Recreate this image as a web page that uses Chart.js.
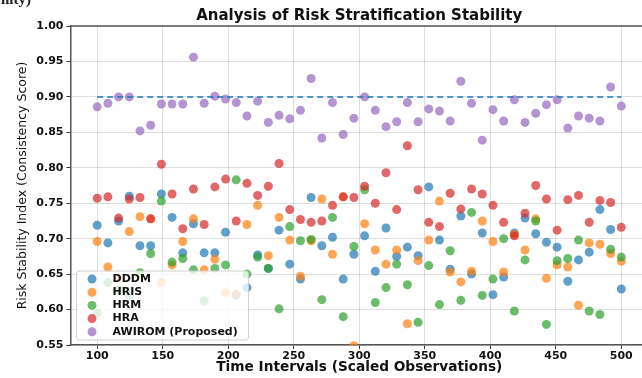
<!DOCTYPE html>
<html lang="en">
<head>
    <meta charset="UTF-8">
    <title>Analysis of Risk Stratification Stability</title>
    <script src="https://cdn.jsdelivr.net/npm/chart.js@4.4.1/dist/chart.umd.min.js"></script>
    <style>
        body {
            margin: 0;
            background: #fff;
            overflow: hidden;
        }
        .wrap {
            position: relative;
            width: 642px;
            height: 378px;
            overflow: hidden;
        }
        .fragment {
            position: absolute;
            left: 1px;
            top: -9px;
            font-family: 'Liberation Serif', serif;
            font-weight: bold;
            font-size: 15px;
            color: #222;
        }
    </style>
</head>
<body>
<div class="wrap">
    <canvas id="myChart" width="652" height="378"></canvas>
    <span class="fragment">ility)</span>
</div>

<script>
    // time intervals (scaled observations)
    const xValues = [100, 108.16, 116.33, 124.49, 132.65, 140.82, 148.98, 157.14, 165.31, 173.47,
        181.63, 189.80, 197.96, 206.12, 214.29, 222.45, 230.61, 238.78, 246.94, 255.10,
        263.27, 271.43, 279.59, 287.76, 295.92, 304.08, 312.24, 320.41, 328.57, 336.73,
        344.90, 353.06, 361.22, 369.39, 377.55, 385.71, 393.88, 402.04, 410.20, 418.37,
        426.53, 434.69, 442.86, 451.02, 459.18, 467.35, 475.51, 483.67, 491.84, 500];

    const dddm = [0.719, 0.694, 0.725, 0.760, 0.690, 0.690, 0.763, 0.730, 0.680, 0.721,
        0.680, 0.680, 0.709, 0.620, 0.631, 0.677, 0.658, 0.712, 0.664, 0.643,
        0.758, 0.690, 0.702, 0.643, 0.678, 0.704, 0.654, 0.715, 0.675, 0.688,
        0.676, 0.773, 0.698, 0.657, 0.732, 0.650, 0.708, 0.621, 0.646, 0.708,
        0.729, 0.707, 0.695, 0.688, 0.640, 0.670, 0.681, 0.741, 0.713, 0.629];

    const hris = [0.696, 0.660, 0.645, 0.710, 0.731, 0.728, 0.638, 0.663, 0.696, 0.728,
        0.656, 0.671, 0.624, 0.622, 0.720, 0.747, 0.676, 0.730, 0.698, 0.647,
        0.697, 0.756, 0.678, 0.759, 0.549, 0.721, 0.684, 0.664, 0.684, 0.580,
        0.669, 0.698, 0.753, 0.653, 0.639, 0.654, 0.725, 0.696, 0.653, 0.706,
        0.684, 0.728, 0.644, 0.663, 0.660, 0.606, 0.694, 0.692, 0.679, 0.668];

    const hrm = [0.595, 0.638, 0.628, 0.620, 0.652, 0.679, 0.753, 0.667, 0.672, 0.656,
        0.612, 0.658, 0.663, 0.783, 0.650, 0.674, 0.658, 0.601, 0.717, 0.697,
        0.699, 0.614, 0.730, 0.590, 0.689, 0.769, 0.610, 0.631, 0.664, 0.635,
        0.582, 0.662, 0.607, 0.683, 0.613, 0.737, 0.620, 0.643, 0.700, 0.598,
        0.670, 0.725, 0.579, 0.669, 0.672, 0.698, 0.598, 0.593, 0.685, 0.674];

    const hra = [0.757, 0.759, 0.729, 0.756, 0.758, 0.728, 0.805, 0.763, 0.714, 0.770,
        0.720, 0.773, 0.784, 0.725, 0.778, 0.761, 0.774, 0.806, 0.741, 0.727,
        0.723, 0.725, 0.747, 0.759, 0.758, 0.774, 0.750, 0.793, 0.741, 0.831,
        0.769, 0.723, 0.717, 0.764, 0.742, 0.770, 0.763, 0.747, 0.723, 0.704,
        0.736, 0.775, 0.756, 0.712, 0.755, 0.761, 0.723, 0.754, 0.751, 0.716];

    const awirom = [0.886, 0.891, 0.900, 0.900, 0.852, 0.860, 0.890, 0.890, 0.890, 0.956,
        0.891, 0.901, 0.897, 0.892, 0.873, 0.894, 0.864, 0.874, 0.869, 0.881,
        0.926, 0.842, 0.892, 0.847, 0.870, 0.900, 0.881, 0.858, 0.865, 0.892,
        0.865, 0.883, 0.880, 0.866, 0.922, 0.891, 0.839, 0.882, 0.866, 0.896,
        0.864, 0.877, 0.889, 0.896, 0.856, 0.873, 0.870, 0.866, 0.914, 0.887];

    const seriesNames = ['DDDM', 'HRIS', 'HRM', 'HRA', 'AWIROM (Proposed)'];
    const chartTitle = 'Analysis of Risk Stratification Stability';
    const threshold = 0.90;
    const xTicks = [100, 150, 200, 250, 300, 350, 400, 450, 500];
    const yTicks = [0.55, 0.60, 0.65, 0.70, 0.75, 0.80, 0.85, 0.90, 0.95, 1.00];

    const colors = [
        'rgba(31,119,180,0.7)',
        'rgba(255,127,14,0.7)',
        'rgba(44,160,44,0.7)',
        'rgba(214,39,40,0.7)',
        'rgba(148,103,189,0.7)'
    ];
    const spine = '#555';
    const gridColor = 'rgba(180,180,180,0.55)';

    const series = [dddm, hris, hrm, hra, awirom];
    const datasets = series.map((vals, k) => ({
        type: 'scatter',
        label: seriesNames[k],
        data: vals.map((v, i) => ({x: xValues[i], y: v})),
        backgroundColor: colors[k],
        borderWidth: 0,
        pointRadius: 4.5,
        order: 5 - k
    }));
    datasets.push({
        type: 'line',
        label: 'threshold',
        data: [{x: xValues[0], y: threshold}, {x: xValues[xValues.length - 1], y: threshold}],
        borderColor: '#1f77b4',
        borderWidth: 1.5,
        borderDash: [6, 4],
        pointRadius: 0,
        order: 0
    });

    // title over the axes, legend inside the axes, top spine
    const extras = {
        id: 'extras',
        afterDatasetsDraw(chart) {
            const {ctx, chartArea: a} = chart;
            ctx.save();
            ctx.strokeStyle = spine;
            ctx.lineWidth = 1.5;
            ctx.beginPath();
            ctx.moveTo(a.left, a.top);
            ctx.lineTo(a.right, a.top);
            ctx.stroke();

            ctx.fillStyle = '#111';
            ctx.font = 'bold 15px "DejaVu Sans"';
            ctx.textAlign = 'center';
            ctx.textBaseline = 'middle';
            ctx.fillText(chartTitle, (a.left + a.right) / 2, 16);

            const bx = a.left + 5.5, bw = 172, bh = 69, by = a.bottom - 5 - bh;
            ctx.fillStyle = 'rgba(255,255,255,0.8)';
            ctx.strokeStyle = 'rgba(204,204,204,0.9)';
            ctx.lineWidth = 1;
            ctx.beginPath();
            ctx.roundRect(bx, by, bw, bh, 3);
            ctx.fill();
            ctx.stroke();

            ctx.font = 'bold 11px "DejaVu Sans"';
            ctx.textAlign = 'left';
            seriesNames.forEach((name, k) => {
                const y = by + 8 + k * 13.2;
                ctx.fillStyle = colors[k];
                ctx.beginPath();
                ctx.arc(bx + 15.5, y, 4.5, 0, Math.PI * 2);
                ctx.fill();
                ctx.fillStyle = '#111';
                ctx.fillText(name, bx + 36, y);
            });
            ctx.restore();
        }
    };

    const ctx = document.getElementById('myChart').getContext('2d');
    new Chart(ctx, {
        data: {datasets},
        plugins: [extras],
        options: {
            responsive: false,
            animation: false,
            layout: {padding: {top: 26, right: 0, left: 0, bottom: 0}},
            plugins: {
                legend: {display: false},
                tooltip: {enabled: false},
                title: {display: false}
            },
            scales: {
                x: {
                    type: 'linear',
                    min: 80,
                    max: 520,
                    afterBuildTicks: s => { s.ticks = xTicks.map(v => ({value: v})); },
                    afterFit: s => { s.height = 33; },
                    border: {display: true, color: spine, width: 1.5},
                    grid: {
                        color: gridColor, lineWidth: 0.8, borderDash: [3, 3],
                        tickLength: 4, tickColor: '#333', tickWidth: 1, tickBorderDash: []
                    },
                    ticks: {
                        color: '#111', padding: 1,
                        font: {family: 'DejaVu Sans', size: 11, weight: 'bold'}
                    },
                    title: {
                        display: true,
                        text: 'Time Intervals (Scaled Observations)',
                        color: '#111',
                        font: {family: 'DejaVu Sans', size: 13.7, weight: 'bold', lineHeight: 1.2},
                        padding: {top: 0, bottom: 2}
                    }
                },
                y: {
                    min: 0.55,
                    max: 1.00,
                    afterBuildTicks: s => { s.ticks = yTicks.map(v => ({value: v})); },
                    afterFit: s => { s.width = 71; },
                    border: {display: true, color: spine, width: 1.5},
                    grid: {
                        color: gridColor, lineWidth: 0.8, borderDash: [3, 3],
                        tickLength: 4.5, tickColor: '#333', tickWidth: 1, tickBorderDash: []
                    },
                    ticks: {
                        color: '#111', padding: 3,
                        callback: v => v.toFixed(2),
                        font: {family: 'DejaVu Sans', size: 11, weight: 'bold'}
                    },
                    title: {
                        display: true,
                        text: 'Risk Stability Index (Consistency Score)',
                        color: '#111',
                        font: {family: 'DejaVu Sans', size: 12.5},
                        padding: {top: 15, bottom: 0}
                    }
                }
            }
        }
    });
</script>
</body>
</html>
